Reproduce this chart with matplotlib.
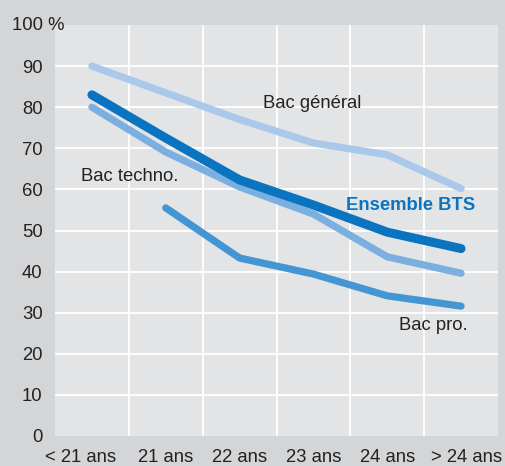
import numpy as np
import matplotlib
matplotlib.use('Agg')
from matplotlib import pyplot as plt
from matplotlib.transforms import ScaledTranslation

plt.rcParams['font.family'] = ['Liberation Sans', 'DejaVu Sans']

# donnees
ages = ['< 21 ans', '21 ans', '22 ans', '23 ans', '24 ans', '> 24 ans']
bac_general = [90, 83.5, 77, 71.3, 68.4, 60.2]
ensemble_bts = [83, 72.5, 62.3, 56.2, 49.6, 45.6]
bac_techno = [80, 69.1, 60.6, 54, 43.6, 39.6]
bac_pro = [None, 55.5, 43.3, 39.4, 34.1, 31.6]

yticks = [0, 10, 20, 30, 40, 50, 60, 70, 80, 90]

fig = plt.figure(figsize=(5.06, 4.66), dpi=100)
fig.patch.set_facecolor('#d4d5d7')
ax = fig.add_axes([55/506, 30/466, 443/506, 411/466])
ax.set_facecolor('#e3e4e6')

x = np.arange(len(ages))

def trace(vals, color, lw):
    xs = [i for i, v in enumerate(vals) if v is not None]
    ys = [v for v in vals if v is not None]
    ax.plot(xs, ys, color=color, lw=lw, solid_capstyle='round',
            solid_joinstyle='round', zorder=3)

trace(bac_general, '#aac9ea', 5.2)
trace(bac_techno, '#7aafdf', 5.2)
trace(bac_pro, '#4396d3', 5.2)
trace(ensemble_bts, '#0a74c0', 6.5)

ax.set_xlim(-0.5, len(ages) - 0.5)
ax.set_ylim(0, 100)

for v in yticks[1:]:
    ax.axhline(v, color='white', lw=1.3, zorder=1)
for i in range(1, len(ages)):
    ax.axvline(i - 0.5, color='white', lw=1.3, zorder=1)

ax.set_xticks(x)
ax.set_xticklabels(ages)
ax.set_yticks(yticks)
ax.set_yticklabels([str(v) for v in yticks])
ax.tick_params(length=0, labelsize=13.3, colors='#222222')
ax.tick_params(axis='y', pad=9)
ax.tick_params(axis='x', pad=9)
for s in ax.spines.values():
    s.set_visible(False)

# premier et dernier libelles decales comme sur l'original
labs = ax.get_xticklabels()
labs[0].set_transform(labs[0].get_transform() + ScaledTranslation(-11/100, 0, fig.dpi_scale_trans))
labs[-1].set_transform(labs[-1].get_transform() + ScaledTranslation(5/100, 0, fig.dpi_scale_trans))

fig.text(12/506, 1 - 25/466, '100 %', fontsize=13.3, color='#222222',
         ha='left', va='center')

ax.text(263/506, 1 - 103/466, 'Bac général', transform=fig.transFigure,
        fontsize=13.3, color='#222222', va='center')
ax.text(81/506, 1 - 176/466, 'Bac techno.', transform=fig.transFigure,
        fontsize=13.3, color='#222222', va='center')
ax.text(399/506, 1 - 326/466, 'Bac pro.', transform=fig.transFigure,
        fontsize=13.3, color='#222222', va='center')
ax.text(346/506, 1 - 205/466, 'Ensemble BTS', transform=fig.transFigure,
        fontsize=13.3, color='#0a74c0', fontweight='bold', va='center')

fig.savefig('out.png', dpi=100, facecolor=fig.get_facecolor())
